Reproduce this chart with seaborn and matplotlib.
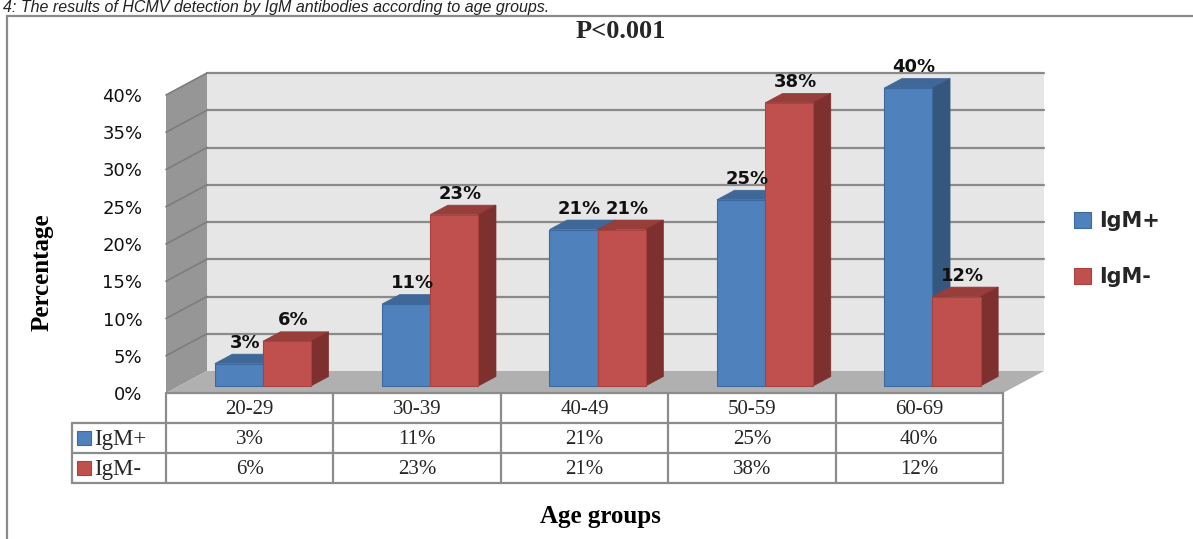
import numpy as np
import pandas as pd
import matplotlib
matplotlib.use("Agg")
import matplotlib.pyplot as plt
import matplotlib.transforms as mtrans
from matplotlib.patches import Polygon, Rectangle, Patch
from matplotlib.lines import Line2D
import seaborn as sns

# ---- data -------------------------------------------------------------
age_groups = ["20-29", "30-39", "40-49", "50-59", "60-69"]
series_names = ["IgM+", "IgM-"]
igm_pos = [3, 11, 21, 25, 40]
igm_neg = [6, 23, 21, 38, 12]
y_ticks = [0, 5, 10, 15, 20, 25, 30, 35, 40]

caption = "4: The results of HCMV detection by IgM antibodies according to age groups."
title = "P<0.001"
x_title = "Age groups"
y_title = "Percentage"

# ---- style ------------------------------------------------------------
front_col = {"IgM+": "#4f81bd", "IgM-": "#c0504d"}
top_col = {"IgM+": "#3f6898", "IgM-": "#973d3a"}
side_col = {"IgM+": "#35577f", "IgM-": "#7d302e"}
edge_col = {"IgM+": "#3c6a9e", "IgM-": "#a9423f"}

W, H, DPI = 1193, 539, 100
sns.set_theme(style="white")
plt.rcParams["font.family"] = ["DejaVu Sans"]
SERIF = "Liberation Serif"

fig = plt.figure(figsize=(W / DPI, H / DPI), dpi=DPI)
fig.patch.set_facecolor("white")


def fx(px):
    return px / W


def fy(py):
    return 1 - py / H


# front plane of the 3-D box
LEFT, RIGHT, BASE, TOP = 166, 1003, 393, 95
ax = fig.add_axes([fx(LEFT), fy(BASE), (RIGHT - LEFT) / W, (BASE - TOP) / H])

df = pd.DataFrame({
    "Age group": age_groups * 2,
    "Percentage": igm_pos + igm_neg,
    "Series": [series_names[0]] * len(age_groups) + [series_names[1]] * len(age_groups),
})
sns.barplot(data=df, x="Age group", y="Percentage", hue="Series",
            hue_order=series_names, palette=front_col, saturation=1,
            width=0.575, ax=ax, legend=False, linewidth=0.8)

ax.set_xlim(-0.5, len(age_groups) - 0.5)
ax.set_ylim(0, 40)
ax.autoscale(False)
ax.patch.set_visible(False)
for s in ax.spines.values():
    s.set_visible(False)
ax.set_xticks([])
ax.set_yticks(y_ticks)
ax.set_yticklabels([f"{t}%" for t in y_ticks])
ax.tick_params(axis="y", length=0, pad=17, labelsize=13, labelcolor="#111111")
ax.grid(False)

# depth direction of the box, in pixels (right and up)
DEPTH = np.array([41.0, 22.0])
IDT = mtrans.IdentityTransform()


def to_disp(x, y, d):
    return ax.transData.transform((x, y)) + d * DEPTH


def poly(points, color, z, ec="none", lw=0.0):
    p = Polygon(np.array(points), closed=True, facecolor=color, edgecolor=ec,
                linewidth=lw, transform=IDT, clip_on=False, zorder=z)
    ax.add_patch(p)
    return p


x0, x1 = ax.get_xlim()
# back wall, side wall, floor
poly([to_disp(x0, 0, 1), to_disp(x1, 0, 1), to_disp(x1, 40, 1), to_disp(x0, 40, 1)],
     "#e6e6e6", 0.1)
poly([to_disp(x0, 0, 0), to_disp(x0, 0, 1), to_disp(x0, 40, 1), to_disp(x0, 40, 0)],
     "#969696", 0.1)
poly([to_disp(x0, 0, 0), to_disp(x1, 0, 0), to_disp(x1, 0, 1), to_disp(x0, 0, 1)],
     "#b0b0b0", 0.2)
GRID = "#8a8a8a"
for t in y_ticks[1:]:
    a, b = to_disp(x0, t, 1), to_disp(x1, t, 1)
    ax.add_line(Line2D([a[0], b[0]], [a[1], b[1]], color=GRID, lw=1.6,
                       transform=IDT, clip_on=False, zorder=0.3))
    c = to_disp(x0, t, 0)
    ax.add_line(Line2D([c[0], a[0]], [c[1], a[1]], color="#7d7d7d", lw=1.2,
                       transform=IDT, clip_on=False, zorder=0.3))

# turn the flat bars into boxes
D0, D1 = 0.32, 0.75
shift = mtrans.ScaledTranslation(D0 * DEPTH[0] / DPI, D0 * DEPTH[1] / DPI,
                                 fig.dpi_scale_trans)
bars = [p for p in ax.patches if isinstance(p, Rectangle) and p.get_width() > 0]
bars.sort(key=lambda p: p.get_x())
first_rgb = matplotlib.colors.to_rgb(front_col[series_names[0]])
for i, p in enumerate(bars):
    bx, bw, bh = p.get_x(), p.get_width(), p.get_height()
    name = series_names[0] if np.allclose(p.get_facecolor()[:3], first_rgb,
                                          atol=0.02) else series_names[1]
    z = 2 + i * 0.01
    p.set_transform(ax.transData + shift)
    p.set_clip_on(False)
    p.set_edgecolor(edge_col[name])
    p.set_zorder(z + 0.004)
    poly([to_disp(bx, bh, D0), to_disp(bx + bw, bh, D0),
          to_disp(bx + bw, bh, D1), to_disp(bx, bh, D1)],
         top_col[name], z + 0.002, ec=top_col[name], lw=0.5)
    poly([to_disp(bx + bw, 0, D0), to_disp(bx + bw, bh, D0),
          to_disp(bx + bw, bh, D1), to_disp(bx + bw, 0, D1)],
         side_col[name], z + 0.002, ec=side_col[name], lw=0.5)
    ax.annotate(f"{bh:g}%", xy=(bx + bw / 2, bh), xytext=(19, 23),
                textcoords="offset pixels", ha="center", va="baseline",
                fontsize=13, fontweight="bold", color="#111111",
                annotation_clip=False, zorder=5)

# axis titles
ax.set_ylabel(y_title, fontsize=18, fontweight="bold", family=SERIF, color="black")
ax.yaxis.set_label_coords((42 - LEFT) / (RIGHT - LEFT), (BASE - 272) / (BASE - TOP))
ax.set_xlabel(x_title, fontsize=18, fontweight="bold", family=SERIF, color="black")
ax.xaxis.set_label_coords((600 - LEFT) / (RIGHT - LEFT), (BASE - 516) / (BASE - TOP))
ax.xaxis.label.set_va("center")
ax.yaxis.label.set_va("center")
fig.text(fx(621), fy(32), title, ha="center", va="center", fontsize=19,
         fontweight="bold", family=SERIF)

# ---- data table ---------------------------------------------------------
TBL = "#8c8c8c"
row_y = [393, 423, 453, 483]
key_left = 72
col_x = [to_disp(k - 0.5, 0, 0)[0] for k in range(len(age_groups) + 1)]


def fig_line(xs, ys):
    fig.add_artist(Line2D([fx(v) for v in xs], [fy(v) for v in ys], color=TBL,
                          lw=1.6, transform=fig.transFigure, zorder=3))


fig_line([col_x[0], col_x[-1]], [row_y[0], row_y[0]])
for yy in row_y[1:]:
    fig_line([key_left, col_x[-1]], [yy, yy])
for xx in col_x:
    fig_line([xx, xx], [row_y[0], row_y[-1]])
fig_line([key_left, key_left], [row_y[1], row_y[-1]])

for k, g in enumerate(age_groups):
    cx = (col_x[k] + col_x[k + 1]) / 2
    fig.text(fx(cx), fy(409), g, ha="center", va="center", fontsize=15, family=SERIF)
    fig.text(fx(cx), fy(439), f"{igm_pos[k]}%", ha="center", va="center",
             fontsize=15, family=SERIF)
    fig.text(fx(cx), fy(469), f"{igm_neg[k]}%", ha="center", va="center",
             fontsize=15, family=SERIF)

for r, name in enumerate(series_names):
    cy = (row_y[r + 1] + row_y[r + 2]) / 2
    fig.add_artist(Rectangle((fx(77), fy(cy + 7)), 14 / W, 14 / H,
                             facecolor=front_col[name], edgecolor=edge_col[name],
                             lw=0.8, transform=fig.transFigure, zorder=3))
    fig.text(fx(94), fy(cy + 1), name, ha="left", va="center", fontsize=16.5,
             family=SERIF)

# ---- legend -------------------------------------------------------------
handles = [Patch(facecolor=front_col[n], edgecolor=edge_col[n], lw=0.8)
           for n in series_names]
fig.legend(handles, series_names, loc="center left",
           bbox_to_anchor=(fx(1074), fy(249)), frameon=False,
           prop={"size": 15, "weight": "bold"}, handlelength=0.8,
           handleheight=0.8, handletextpad=0.4, labelspacing=1.75,
           borderpad=0, borderaxespad=0)

# ---- frame and caption ------------------------------------------------------
fig.add_artist(Rectangle((fx(7), fy(560)), (1300 - 7) / W, (560 - 16) / H,
                         fill=False, edgecolor="#8a8a8a", lw=1.6,
                         transform=fig.transFigure, zorder=1))
fig.text(fx(3), fy(12), caption, ha="left", va="baseline", fontsize=11.5,
         family="Liberation Sans", style="italic", color="#222222")

fig.savefig("out.png", dpi=DPI, facecolor="white")
